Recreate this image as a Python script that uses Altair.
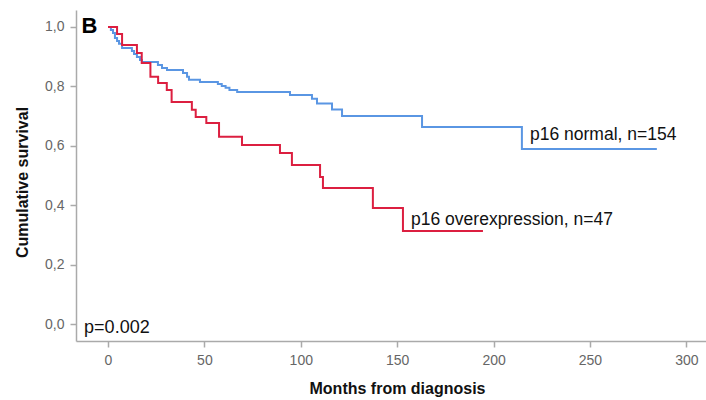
import altair as alt
import pandas as pd

# Kaplan-Meier step data
normal_months = [0, 1.5, 2.6, 3.6, 4.7, 5.7, 7.3, 12.4, 13.5, 15, 16.6, 17.6, 25.9, 28, 30.6,
                 38.9, 41, 42, 47.7, 57, 59, 61, 63, 67, 94.4, 105.8, 108.4, 116.2, 121.4,
                 162.9, 214.7, 284.7]
normal_surv = [1.0, 0.99, 0.98, 0.963, 0.953, 0.943, 0.929, 0.919, 0.909, 0.899, 0.889, 0.882,
               0.872, 0.862, 0.855, 0.845, 0.832, 0.822, 0.815, 0.808, 0.801, 0.795, 0.788,
               0.781, 0.771, 0.758, 0.742, 0.722, 0.700, 0.663, 0.589, 0.589]

over_months = [0, 4.7, 7.3, 15, 17.5, 22, 26, 30.5, 33, 43.5, 45.5, 51, 57.6, 69.5, 89.2,
               95.4, 110, 111.5, 137.4, 153, 194.5]
over_surv = [1.0, 0.976, 0.939, 0.912, 0.879, 0.832, 0.811, 0.788, 0.747, 0.721, 0.697,
             0.677, 0.630, 0.603, 0.576, 0.535, 0.495, 0.458, 0.391, 0.313, 0.313]

x_ticks = [0, 50, 100, 150, 200, 250, 300]
y_ticks = [0.0, 0.2, 0.4, 0.6, 0.8, 1.0]

label_text = ["p16 normal, n=154", "p16 overexpression, n=47"]
label_month = [218.9, 157.2]
label_surv = [0.636, 0.350]

FONT = "Liberation Sans"
BLUE = "#5a96e3"
RED = "#dc1f40"

df_n = pd.DataFrame({"month": normal_months, "surv": normal_surv})
df_o = pd.DataFrame({"month": over_months, "surv": over_surv})
df_lab = pd.DataFrame({"month": label_month, "surv": label_surv, "text": label_text})
df_p = pd.DataFrame({"month": [-12.4], "surv": [-0.013], "text": ["p=0.002"]})
df_b = pd.DataFrame({"month": [-13.8], "surv": [1.003], "text": ["B"]})

xscale = alt.Scale(domain=[-16.6, 310.2], nice=False, zero=False)
yscale = alt.Scale(domain=[-0.057, 1.057], nice=False, zero=False)

xenc = alt.X("month:Q", scale=xscale,
             axis=alt.Axis(values=x_ticks, title="Months from diagnosis", grid=False,
                           titleX=321, titleY=47, titleAlign="center",
                           titleBaseline="middle", labelPadding=6))
yenc = alt.Y("surv:Q", scale=yscale,
             axis=alt.Axis(values=y_ticks, title="Cumulative survival", grid=False,
                           labelExpr="replace(format(datum.value, '.1f'), '.', ',')",
                           titleX=-54, titleY=172, titleAngle=270, titleAlign="center",
                           titleBaseline="middle", labelPadding=6))

line_n = alt.Chart(df_n).mark_line(interpolate="step-after", color=BLUE, strokeWidth=2).encode(
    x=xenc, y=yenc)
line_o = alt.Chart(df_o).mark_line(interpolate="step-after", color=RED, strokeWidth=2).encode(
    x="month:Q", y="surv:Q")

labels = alt.Chart(df_lab).mark_text(align="left", baseline="middle", font=FONT,
                                     fontSize=17.5, color="#111111").encode(
    x="month:Q", y="surv:Q", text="text:N")
ptext = alt.Chart(df_p).mark_text(align="left", baseline="middle", font=FONT,
                                  fontSize=18, color="#111111").encode(
    x="month:Q", y="surv:Q", text="text:N")
btext = alt.Chart(df_b).mark_text(align="left", baseline="middle", font=FONT,
                                  fontSize=22, fontWeight="bold", color="#000000").encode(
    x="month:Q", y="surv:Q", text="text:N")

chart = alt.layer(line_n, line_o, labels, ptext, btext).properties(
    width=630, height=331,
    autosize=alt.AutoSizeParams(type="none"),
    padding={"left": 76, "top": 10, "right": 0, "bottom": 59},
    background="white",
).configure_view(stroke=None).configure_axis(
    grid=False,
    domainColor="#aaaaaa", domainWidth=1.5,
    tickColor="#aaaaaa", tickWidth=1.5, tickSize=6,
    labelColor="#666666", labelFont=FONT, labelFontSize=14,
    titleFont=FONT, titleFontSize=16, titleFontWeight="bold", titleColor="#111111",
)

chart.save("out.html", embed_options={"renderer": "svg", "actions": False})
